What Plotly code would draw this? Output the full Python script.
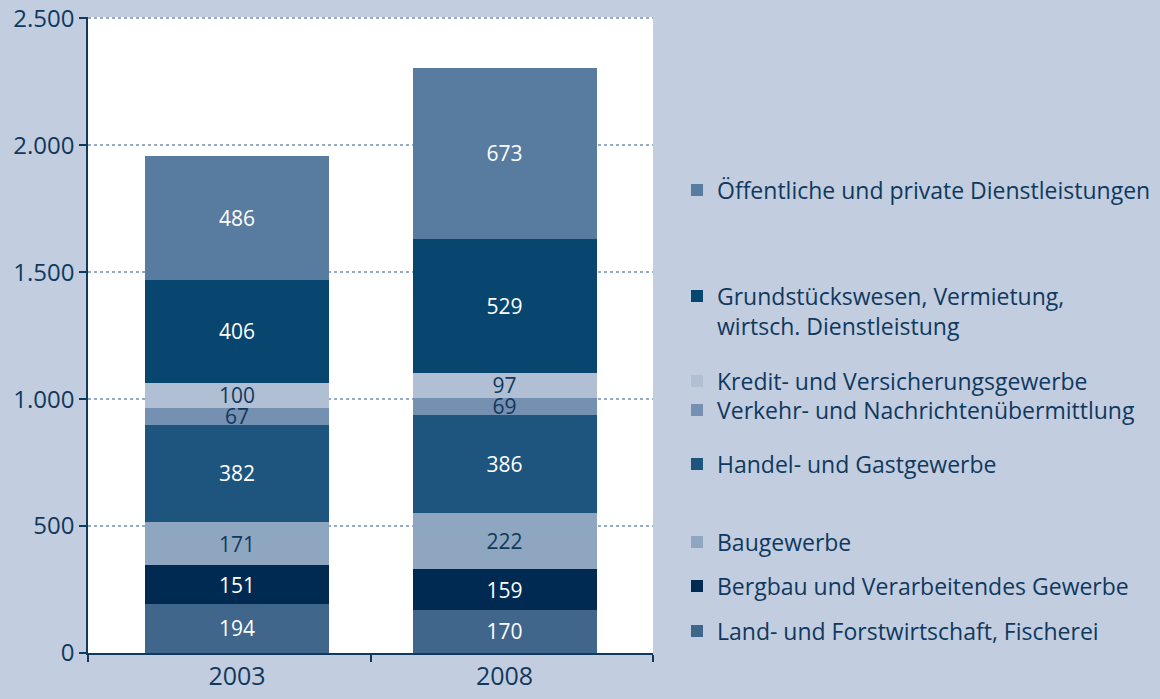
import plotly.graph_objects as go

years = ["2003", "2008"]
sectors = [
    "Land- und Forstwirtschaft, Fischerei",
    "Bergbau und Verarbeitendes Gewerbe",
    "Baugewerbe",
    "Handel- und Gastgewerbe",
    "Verkehr- und Nachrichtenübermittlung",
    "Kredit- und Versicherungsgewerbe",
    "Grundstückswesen, Vermietung,<br>wirtsch. Dienstleistung",
    "Öffentliche und private Dienstleistungen",
]
values_2003 = [194, 151, 171, 382, 67, 100, 406, 486]
values_2008 = [170, 159, 222, 386, 69, 97, 529, 673]
y_ticks = [0, 500, 1000, 1500, 2000, 2500]

colors = ["#40668c", "#002a52", "#8fa6c1", "#1d557e", "#7590b0", "#b0bfd4", "#08466f", "#587ba0"]
text_colors = ["white", "white", "#10395e", "white", "#10395e", "#10395e", "white", "white"]
legend_px = [631, 586, 542, 464, 410, 381, 311, 190]

NAVY = "#10395e"
BG = "#c2cde0"
L, R, T, B = 88, 507, 17, 46
W, H = 1160, 699
ph = H - T - B
pw = W - L - R

fig = go.Figure()
layout_legends = {}
xs = list(range(len(years)))
for i, name in enumerate(sectors):
    key = "legend" if i == 0 else f"legend{i+1}"
    vals = [values_2003[i], values_2008[i]]
    fig.add_trace(go.Bar(
        x=xs, y=vals, name=name,
        marker=dict(color=colors[i], line=dict(width=0)),
        text=[f"{v}" for v in vals], textposition="inside",
        insidetextanchor="middle", textangle=0, constraintext="none",
        textfont=dict(color=text_colors[i], size=21, family="Open Sans"),
        legend=key, hoverinfo="skip",
    ))
    layout_legends[key] = dict(
        x=(677 - L) / pw, xanchor="left",
        y=(H - B - legend_px[i]) / ph, yanchor="middle",
        bgcolor="rgba(0,0,0,0)", itemwidth=30,
        valign="top",
        font=dict(size=23, color=NAVY, family="Open Sans"),
    )

fig.update_layout(
    width=W, height=H,
    barmode="stack", bargap=0.312,
    showlegend=True,
    paper_bgcolor=BG, plot_bgcolor="white",
    margin=dict(l=L, r=R, t=T, b=B, autoexpand=False),
    separators=",.",
    font=dict(family="Open Sans", color=NAVY),
    **layout_legends,
)
fig.update_xaxes(
    range=[-0.557, 1.555], tickvals=xs, ticktext=years,
    ticks="", showgrid=False, zeroline=False,
    showline=True, linecolor=NAVY, linewidth=1.5,
    tickfont=dict(size=25, color=NAVY),
    minor=dict(tickvals=[-0.557, 0.5, 1.555], ticks="outside", ticklen=7, tickcolor=NAVY, tickwidth=1.5, showgrid=False),
)
fig.update_yaxes(
    range=[0, 2505], tickvals=y_ticks, tickformat=",d",
    ticks="outside", ticklen=7, tickcolor=NAVY, tickwidth=1.5,
    showline=True, linecolor=NAVY, linewidth=1.5,
    showgrid=True, gridcolor="#97abc6", gridwidth=1.5, griddash="dot",
    zeroline=False, ticklabeloverflow="allow",
    tickfont=dict(size=24, color=NAVY),
)
fig.write_html(
    "out.html",
    config={"displayModeBar": False},
    post_script="document.body.style.margin='0px';document.body.style.overflow='hidden';",
)
